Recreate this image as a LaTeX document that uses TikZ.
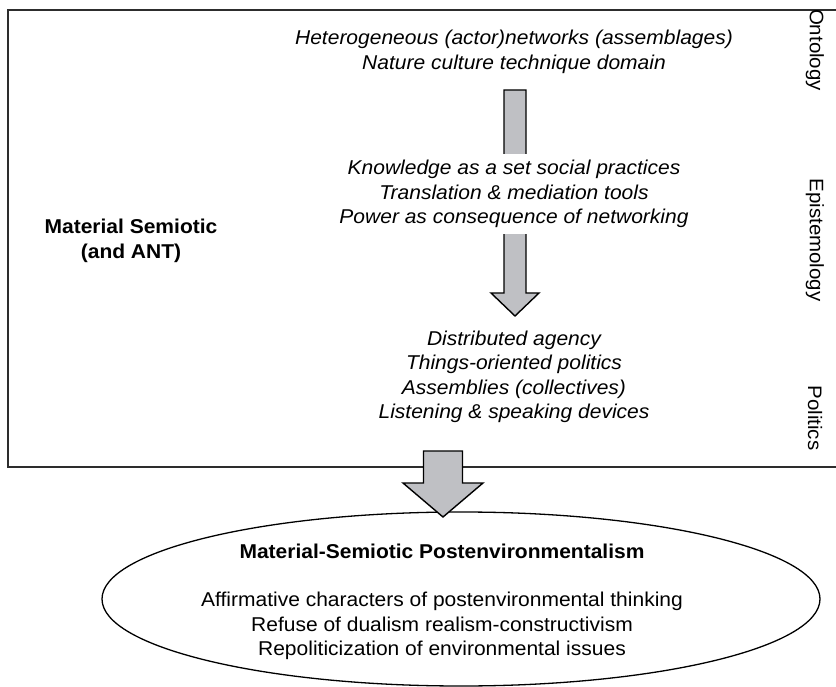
\documentclass[tikz,border=0pt]{standalone}
\usepackage{fontspec}
\setmainfont{Liberation Sans}[FakeStretch=1.05]
\usetikzlibrary{shapes.geometric}
\definecolor{arrowgray}{RGB}{191,192,196}
\definecolor{framegray}{RGB}{45,45,45}

\begin{document}
\begin{tikzpicture}[x=1pt,y=-1pt,
  every node/.style={font=\fontsize{20}{24.5}\selectfont, align=center, inner sep=0pt},
  level/.style={font=\fontsize{20}{24.5}\selectfont\itshape},
  heading/.style={font=\fontsize{20}{24.5}\selectfont\bfseries},
  side/.style={rotate=-90, font=\fontsize{19.5}{24}\selectfont},
  fat/.style={fill=arrowgray, draw=black, line width=1.4pt, line join=miter}]
\useasboundingbox (0,0) rectangle (836,687);

\draw[framegray, line width=1.8pt] (836,10) -- (8,10) -- (8,467) -- (836,467);

\fill[white] (461,599) ellipse [x radius=359pt, y radius=87pt];
\draw[line width=1.3pt] (461,599) ellipse [x radius=359pt, y radius=87pt];

\filldraw[fat] (504,90) -- (526,90) -- (526,293) -- (539,293) -- (515,316)
    -- (491,293) -- (504,293) -- cycle;
\filldraw[fat] (423.5,451) -- (462.5,451) -- (462.5,483) -- (483,483) -- (443,517)
    -- (403,483) -- (423.5,483) -- cycle;

\node[level] (onto) at (514,52) {Heterogeneous (actor)networks (assemblages)\\
    Nature culture technique domain};
\node[level, fill=white, inner ysep=6pt] (epi) at (514,194) {Knowledge as a set social practices\\
    Translation \& mediation tools\\ Power as consequence of networking};
\node[level] (pol) at (514,377) {Distributed agency\\ Things-oriented politics\\
    Assemblies (collectives)\\ Listening \& speaking devices};

\node[heading] (ant) at (131,241) {Material Semiotic\\ (and ANT)};

\node[side] (ontolab) at (815,50) {Ontology};
\node[side] (epilab) at (815,240) {Epistemology};
\node[side] (pollab) at (815,418) {Politics};

\node[heading, anchor=base] (post) at (442,558) {Material-Semiotic Postenvironmentalism};
\node (thinking) at (442,626) {Affirmative characters of postenvironmental thinking\\
    Refuse of dualism realism-constructivism\\ Repoliticization of environmental issues};
\end{tikzpicture}
\end{document}
